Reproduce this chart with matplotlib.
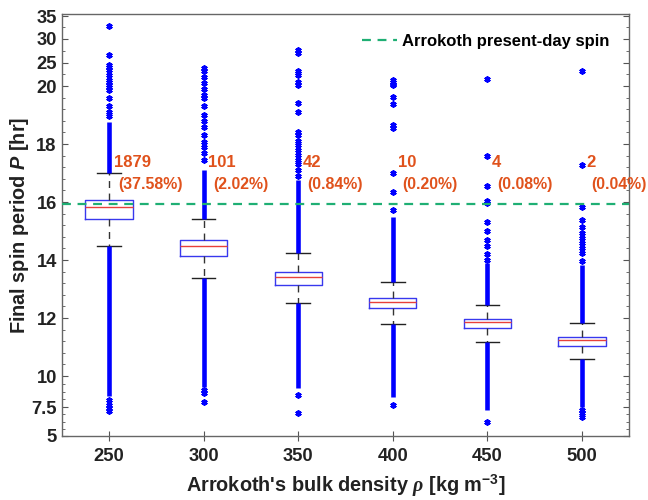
import numpy as np
import matplotlib
matplotlib.use("Agg")
import matplotlib.pyplot as plt

plt.rcParams['font.family'] = ['Liberation Sans', 'DejaVu Sans']
plt.rcParams['font.weight'] = 'bold'
plt.rcParams['mathtext.fontset'] = 'custom'
plt.rcParams['mathtext.rm'] = 'Liberation Sans:bold'
plt.rcParams['mathtext.bf'] = 'Liberation Sans:bold'
plt.rcParams['mathtext.sf'] = 'Liberation Sans:bold:italic'
plt.rcParams['mathtext.it'] = 'Liberation Serif:italic'

# ---------------- data ----------------
densities = ['250', '300', '350', '400', '450', '500']
q1 = [15.42, 14.15, 13.14, 12.33, 11.64, 11.04]
med = [15.83, 14.48, 13.42, 12.56, 11.85, 11.24]
q3 = [16.06, 14.68, 13.57, 12.70, 11.97, 11.35]
whis_lo = [14.49, 13.39, 12.51, 11.79, 11.16, 10.59]
whis_hi = [17.00, 15.42, 14.23, 13.25, 12.45, 11.82]

# dense (continuous-looking) outlier ranges
dense_lo = [(8.4, 14.49), (9.14, 13.39), (9.01, 12.51), (8.33, 11.79), (7.24, 11.16), (7.52, 10.59)]
dense_hi = [(17.0, 18.75), (15.42, 17.1), (14.23, 16.76), (13.25, 15.49), (12.45, 13.89), (11.82, 13.83)]

# individually visible outliers
sparse_fliers = [
    [8.06, 7.66, 7.38, 7.18, 18.95, 19.1, 19.31, 19.58, 19.86, 19.96, 20.2, 20.9, 21.3,
     22.4, 23.4, 24.1, 24.5, 26.6, 32.7],
    [8.9, 8.6, 7.93, 17.45, 17.68, 17.9, 18.08, 18.31, 18.6, 18.8, 19.0, 19.3, 19.6,
     19.7, 19.9, 20.6, 22.0, 23.1, 23.9],
    [8.47, 6.96, 16.9, 17.1, 17.3, 17.45, 17.62, 17.79, 17.97, 18.1, 18.3, 18.4, 19.1,
     19.4, 20.2, 20.9, 22.4, 22.8, 23.1, 26.9, 27.7],
    [7.66, 15.72, 16.36, 17.01, 18.54, 18.66, 19.38, 19.62, 20.2, 20.5, 20.9, 21.3],
    [6.23, 14.0, 14.2, 14.5, 14.7, 15.0, 15.32, 15.98, 16.03, 16.55, 17.59, 21.5],
    [7.2, 6.96, 6.66, 13.95, 14.23, 14.4, 14.59, 14.75, 14.92, 15.15, 15.38, 15.84,
     17.28, 23.1],
]

counts = ['1879', '101', '42', '10', '4', '2']
percents = ['(37.58%)', '(2.02%)', '(0.84%)', '(0.20%)', '(0.08%)', '(0.04%)']
present_spin = 15.94

ytick_vals = [5, 7.5, 10, 12, 14, 16, 18, 20, 25, 30, 35]
ytick_labels = ['5', '7.5', '10', '12', '14', '16', '18', '20', '25', '30', '35']

# ---------------- axis scale (piecewise) ----------------
sc_d = [5, 7.5, 10, 20, 25, 30, 35, 40]
sc_p = [0, 29, 60, 350, 373.5, 397.5, 420, 443.5]

def fwd(y):
    return np.interp(y, sc_d, sc_p)

def inv(p):
    return np.interp(p, sc_p, sc_d)

fig = plt.figure(figsize=(6.48, 5.0), dpi=100)
ax = fig.add_axes([0.0952, 0.128, 0.8759, 0.844])
ax.set_yscale('function', functions=(fwd, inv))

pos = np.arange(1, len(densities) + 1)
stats = []
for i in range(len(densities)):
    stats.append(dict(med=med[i], q1=q1[i], q3=q3[i], whislo=whis_lo[i],
                      whishi=whis_hi[i], fliers=sparse_fliers[i], label=densities[i]))

blue = '#0000FF'
ax.bxp(stats, positions=pos, widths=0.5, showfliers=True,
       boxprops=dict(color='#3838EE', linewidth=1.0),
       medianprops=dict(color='#E8403A', linewidth=1.0),
       whiskerprops=dict(color='#333333', linewidth=1.0, linestyle=(0, (5, 4))),
       capprops=dict(color='#222222', linewidth=1.0),
       flierprops=dict(marker=(6, 2, 0), markersize=4.5, markerfacecolor=blue,
                       markeredgecolor=blue, markeredgewidth=1.3, linestyle='none'))

for i, p in enumerate(pos):
    ax.vlines([p, p], [dense_lo[i][0], dense_hi[i][0]], [dense_lo[i][1], dense_hi[i][1]],
              color=blue, linewidth=3.3, zorder=3)

ax.axhline(present_spin, color='#1FAF74', linestyle=(0, (4, 3)), linewidth=1.6,
           label='Arrokoth present-day spin', zorder=4)

orange = '#E0521C'
for i, p in enumerate(pos):
    ax.text(p + 0.05, 17.35, counts[i], color=orange, fontsize=12, fontweight='bold',
            ha='left', va='center')
    ax.text(p + 0.10, 16.6, percents[i], color=orange, fontsize=11.4, fontweight='bold',
            ha='left', va='center', clip_on=False)

ax.set_xlim(0.5, 6.5)
ax.set_ylim(5, 35.43)
ax.set_xticks(pos)
ax.set_xticklabels(densities)
ax.set_yticks(ytick_vals)
ax.set_yticklabels(ytick_labels)

minor = list(np.arange(5, 10, 0.625)) + list(np.arange(10, 20, 0.4)) + [22.5, 27.5, 32.5]
ax.set_yticks(minor, minor=True)

ax.tick_params(axis='y', which='major', direction='in', length=4, width=0.8,
               right=True, labelsize=13.2, colors='#555555', labelcolor='#222222')
ax.tick_params(axis='y', which='minor', direction='in', length=2.5, width=0.6,
               right=True, colors='#555555')
ax.tick_params(axis='x', which='major', direction='inout', length=7, width=0.8,
               top=False, labelsize=13.2, colors='#555555', labelcolor='#222222', pad=5)
ax.tick_params(axis='x', which='minor', bottom=False, top=False)

for s in ax.spines.values():
    s.set_color('#666666')
    s.set_linewidth(1.0)

ax.set_xlabel("Arrokoth's bulk density $\\rho$ [kg m$^{-3}$]", fontsize=14.3,
              fontweight='bold', color='#222222', labelpad=6)
ax.set_ylabel("Final spin period $\\mathsf{P}$ [hr]", fontsize=14.3,
              fontweight='bold', color='#222222', labelpad=0)

leg = ax.legend(loc='upper right', frameon=False, handlelength=2.1, handletextpad=0.3,
                prop=dict(weight='bold', size=12), borderaxespad=0.8)

fig.savefig('out.png', dpi=100)
